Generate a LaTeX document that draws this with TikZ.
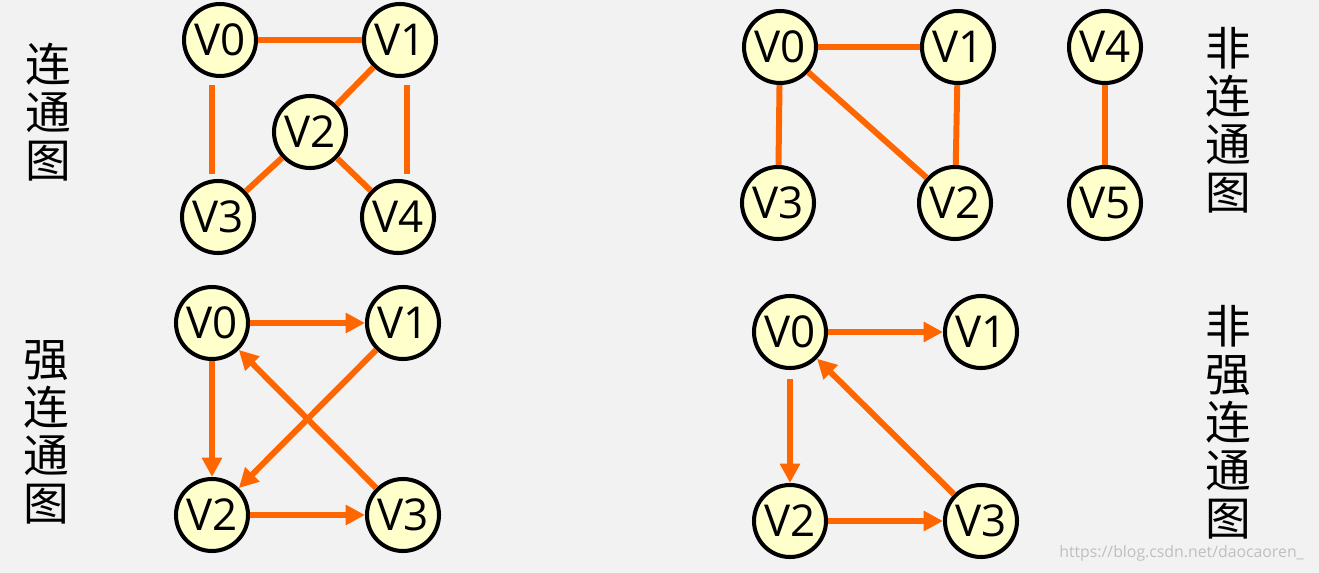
\documentclass[tikz,border=0pt]{standalone}
\usepackage{fontspec}
\setmainfont{Open Sans}
\newfontfamily\cjk{Noto Sans CJK SC}
\usetikzlibrary{arrows.meta}
\definecolor{edgeorange}{RGB}{255,102,0}
\definecolor{nodefill}{RGB}{255,255,204}
\definecolor{bggray}{RGB}{242,242,242}
\tikzset{
  vert/.style={circle,draw=black,line width=2.3pt,fill=nodefill,
    minimum size=1.44cm,inner sep=0pt,font=\fontsize{25}{25}\selectfont},
  edge/.style={draw=edgeorange,line width=3.4pt},
  arc/.style={edge,-{Triangle[length=11pt,width=11pt]}},
  title/.style={align=center,font=\cjk\fontsize{26}{27.3}\selectfont}
}
\begin{document}
\begin{tikzpicture}
      \fill[bggray] (0,0) rectangle (26.38,-11.46);
      \useasboundingbox (0,0) rectangle (26.38,-11.46);
      % connected
      \node[title] (t1) at (0.96,-2.25) {连\\通\\图};
      \draw
        (4.40,-0.80) node[vert] (a0){V0}
        (8.00,-0.80) node[vert] (a1){V1}
        (6.20,-2.64) node[vert] (a2){V2}
        (4.36,-4.34) node[vert] (a3){V3}
        (7.96,-4.34) node[vert] (a4){V4};
      \begin{scope}
        \draw[edge] (a0) to (a1);
        \draw[edge] ([xshift=-0.16cm,yshift=-0.14cm]a0.south) to ([xshift=-0.12cm,yshift=0.1cm]a3.north);
        \draw[edge] ([xshift=0.14cm,yshift=-0.14cm]a1.south) to ([xshift=0.18cm,yshift=0.1cm]a4.north);
        \draw[edge] (a1) to (a2);
        \draw[edge] (a2) to (a3);
        \draw[edge] (a2) to (a4);
      \end{scope}
      % not connected
      \node[title] (t2) at (24.56,-2.40) {非\\连\\通\\图};
      \draw
        (15.60,-0.94) node[vert] (b0){V0}
        (19.16,-0.94) node[vert] (b1){V1}
        (19.10,-4.06) node[vert] (b2){V2}
        (15.56,-4.06) node[vert] (b3){V3}
        (22.10,-0.94) node[vert] (b4){V4}
        (22.10,-4.06) node[vert] (b5){V5};
      \begin{scope}
        \draw[edge] (b0) to (b1);
        \draw[edge] (b0) to (b3);
        \draw[edge] (b0) to (b2);
        \draw[edge] (b1) to (b2);
        \draw[edge] (b4) to (b5);
      \end{scope}
      % strongly connected
      \node[title] (t3) at (0.92,-8.65) {强\\连\\通\\图};
      \draw
        (4.24,-6.46) node[vert] (c0){V0}
        (8.06,-6.46) node[vert] (c1){V1}
        (4.24,-10.30) node[vert] (c2){V2}
        (8.06,-10.30) node[vert] (c3){V3};
      \begin{scope}
        \draw[arc] (c0) to (c1);
        \draw[arc] (c0) to (c2);
        \draw[arc] (c1) to (c2);
        \draw[arc] (c2) to (c3);
        \draw[arc] (c3) to (c0);
      \end{scope}
      % not strongly connected
      \node[title] (t4) at (24.56,-8.45) {非\\强\\连\\通\\图};
      \draw
        (15.80,-6.64) node[vert] (d0){V0}
        (19.62,-6.64) node[vert] (d1){V1}
        (15.80,-10.42) node[vert] (d2){V2}
        (19.62,-10.42) node[vert] (d3){V3};
      \begin{scope}
        \draw[arc] (d0) to (d1);
        \draw[arc,shorten <=5pt] (d0) to (d2);
        \draw[arc] (d2) to (d3);
        \draw[arc] (d3) to (d0);
      \end{scope}
      \node[anchor=east,text=black!25,font=\fontsize{9}{9}\selectfont] (wm) at (26.2,-11.06) {https://blog.csdn.net/daocaoren\_};
    \end{tikzpicture}
\end{document}
